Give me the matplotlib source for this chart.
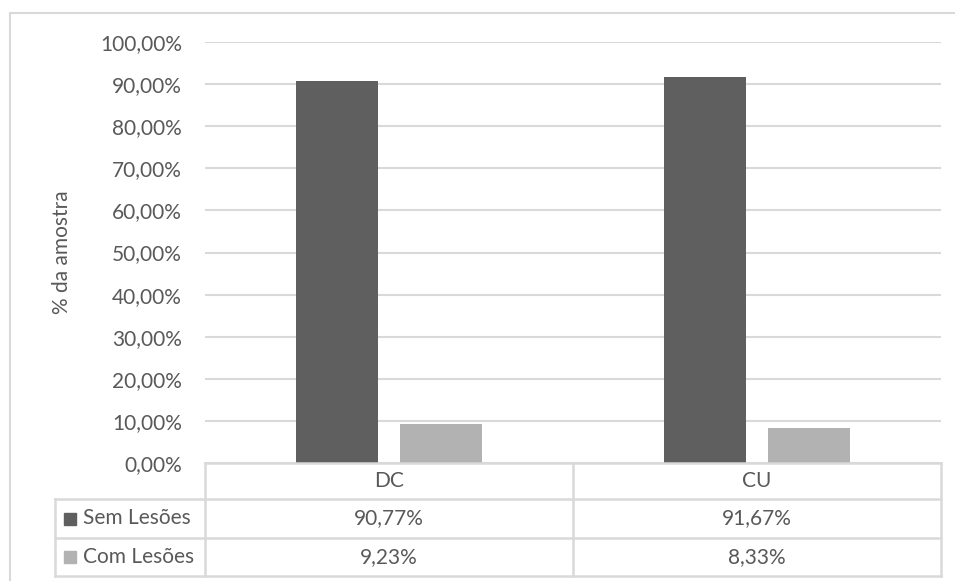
import matplotlib
matplotlib.use("Agg")
import matplotlib.pyplot as plt
from matplotlib.lines import Line2D
from matplotlib.patches import Rectangle
import numpy as np

plt.rcParams['font.family'] = ['Lato', 'DejaVu Sans']

# Data
categories = ['DC', 'CU']
series_names = ['Sem Lesões', 'Com Lesões']
sem_lesoes = [90.77, 91.67]
com_lesoes = [9.23, 8.33]
y_ticks = [0, 10, 20, 30, 40, 50, 60, 70, 80, 90, 100]

DARK = '#5f5f5f'
LIGHT = '#b2b2b2'
GRID = '#d9d9d9'
TEXT = '#595959'
FS = 15

W, H = 955, 581
fig = plt.figure(figsize=(W / 100, H / 100), dpi=100)


def fx(px):
    return px / W


def fy(py):
    return 1 - py / H


# plot area in pixel bounds
L, R, T, B = 205, 941, 42, 463
ax = fig.add_axes([fx(L), fy(B), fx(R) - fx(L), fy(T) - fy(B)])

x = np.arange(len(categories))
bw = 0.223
off = 0.1413
ax.bar(x - off, sem_lesoes, width=bw, color=DARK, zorder=3)
ax.bar(x + off, com_lesoes, width=bw, color=LIGHT, zorder=3)

ax.set_xlim(-0.5, len(categories) - 0.5)
ax.set_ylim(0, 100)
ax.set_yticks(y_ticks)
ax.set_yticklabels([f"{v:.2f}%".replace('.', ',') for v in y_ticks],
                   fontsize=FS, color=TEXT)
ax.tick_params(axis='y', length=0, pad=16.5)
ax.set_xticks([])
ax.yaxis.grid(True, color=GRID, linewidth=1.5, zorder=0)
for s in ax.spines.values():
    s.set_visible(False)

fig.text(fx(62), fy(252), '% da amostra', rotation=90, fontsize=FS,
         color=TEXT, ha='center', va='center')

# outer chart frame
fig.add_artist(Line2D([fx(10), fx(10)], [fy(12.5), fy(H + 5)],
                      transform=fig.transFigure, color=GRID, lw=1.5))
fig.add_artist(Line2D([fx(10), fx(W + 5)], [fy(12.5), fy(12.5)],
                      transform=fig.transFigure, color=GRID, lw=1.5))

# data table
tl, tc, tr = 55, L, R
rows_y = [463, 499, 538, 576]
col_w = (tr - tc) / len(categories)
col_x = [tc + i * col_w for i in range(len(categories) + 1)]


def hline(y, x0, x1):
    fig.add_artist(Line2D([fx(x0), fx(x1)], [fy(y), fy(y)],
                          transform=fig.transFigure, color=GRID, lw=1.8))


def vline(x0, y0, y1):
    fig.add_artist(Line2D([fx(x0), fx(x0)], [fy(y0), fy(y1)],
                          transform=fig.transFigure, color=GRID, lw=1.8))


hline(rows_y[0], tc, tr)
for y in rows_y[1:]:
    hline(y, tl, tr)
vline(tl, rows_y[1], rows_y[3])
for cx in col_x:
    vline(cx, rows_y[0], rows_y[3])

for i, cat in enumerate(categories):
    cx = (col_x[i] + col_x[i + 1]) / 2
    fig.text(fx(cx), fy((rows_y[0] + rows_y[1]) / 2), cat, fontsize=FS,
             color=TEXT, ha='center', va='center')

series_vals = [sem_lesoes, com_lesoes]
series_cols = [DARK, LIGHT]
for r, (name, vals, col) in enumerate(zip(series_names, series_vals, series_cols)):
    yc = (rows_y[r + 1] + rows_y[r + 2]) / 2
    fig.add_artist(Rectangle((fx(64), fy(yc + 6)), fx(12), fy(0) - fy(12),
                             transform=fig.transFigure, color=col))
    fig.text(fx(83), fy(yc), name, fontsize=FS, color=TEXT,
             ha='left', va='center')
    for i, v in enumerate(vals):
        cx = (col_x[i] + col_x[i + 1]) / 2
        fig.text(fx(cx), fy(yc), f"{v:.2f}%".replace('.', ','), fontsize=FS,
                 color=TEXT, ha='center', va='center')

fig.savefig('out.png', dpi=100)
